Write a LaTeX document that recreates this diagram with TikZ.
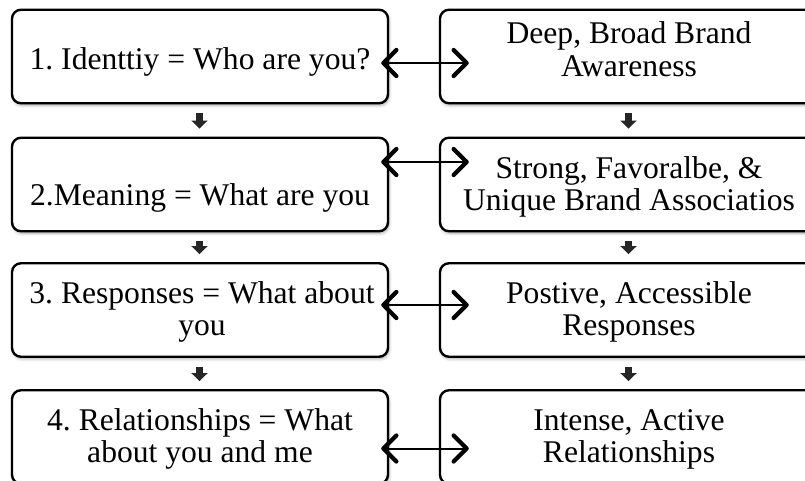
\documentclass[tikz,border=0pt]{standalone}
\usepackage{fontspec}
\setmainfont{Liberation Serif}
\usetikzlibrary{arrows.meta,shadows.blur}
\frenchspacing
\begin{document}
\begin{tikzpicture}[x=1pt,y=-1pt,
  box/.style={draw=black, line width=2.4pt, rounded corners=9pt, fill=white,
    minimum width=376pt, minimum height=93.5pt, inner sep=0pt,
    blur shadow={shadow xshift=1pt, shadow yshift=-2pt,
      shadow blur radius=3pt, shadow opacity=35}},
  rbox/.style={box, minimum width=378pt},
  txt/.style={align=center, font=\fontsize{31.6}{32.5}\selectfont, inner sep=0pt},
  pair/.style={draw=black, line width=2pt,
    {Straight Barb[length=13pt,width=26pt,line width=4.3pt,round]}-{Straight Barb[length=13pt,width=26pt,line width=4.3pt,round]}},
  down/.style={draw=black!85, line width=7pt, -{Triangle[length=8pt,width=16pt]},
    shorten <=9pt, shorten >=8pt}
]
\useasboundingbox (0,0) rectangle (805,481);
\clip (0,0) rectangle (805,481);

% left column: levels of the pyramid
\node[box] (L1) at (200,56.5)  {};
\node[box] (L2) at (200,184.5) {};
\node[box] (L3) at (200,310)   {};
\node[box] (L4) at (200,437)   {};

% right column: brand-building goals
\node[rbox] (R1) at (629,56.5)  {};
\node[rbox] (R2) at (629,184.5) {};
\node[rbox] (R3) at (629,310)   {};
\node[rbox] (R4) at (629,437)   {};

% labels
\node[txt] (L1t) at ([yshift=-5.8pt]L1.center) {1. Identtiy = Who are you?};
\node[txt] (L2t) at ([yshift=-13.3pt]L2.center) {2.Meaning = What are you};
\node[txt] (L3t) at ([xshift=2pt,yshift=-2pt]L3.center) {3. Responses = What about\\you};
\node[txt] (L4t) at ([yshift=-1.7pt]L4.center) {4. Relationships = What\\about you and me};

\node[txt] (R1t) at ([yshift=7.3pt]R1.center) {Deep, Broad Brand\\Awareness};
\node[txt] (R2t) at ([yshift=-2.6pt]R2.center) {Strong, Favoralbe, \&\\Unique Brand Associatios};
\node[txt] (R3t) at ([yshift=-2pt]R3.center) {Postive, Accessible\\Responses};
\node[txt] (R4t) at ([yshift=-2.3pt]R4.center) {Intense, Active\\Relationships};

% two-way links between the columns
\draw[pair] ([xshift=-8pt,yshift=-6.5pt]L1.east) -- ([xshift=30pt,yshift=-6.5pt]R1.west);
\draw[pair] ([xshift=-8pt,yshift=22.5pt]L2.east) -- ([xshift=30pt,yshift=22.5pt]R2.west);
\draw[pair] ([xshift=-8pt,yshift=5pt]L3.east) -- ([xshift=30pt,yshift=5pt]R3.west);
\draw[pair] ([xshift=-8pt,yshift=-11.5pt]L4.east) -- ([xshift=30pt,yshift=-11.5pt]R4.west);

% downward steps
\foreach \a/\b in {L1/L2, L2/L3, L3/L4, R1/R2, R2/R3, R3/R4}
  \draw[down] ([xshift=-0.5pt]\a.south) -- ([xshift=-0.5pt]\b.north);
\end{tikzpicture}
\end{document}
